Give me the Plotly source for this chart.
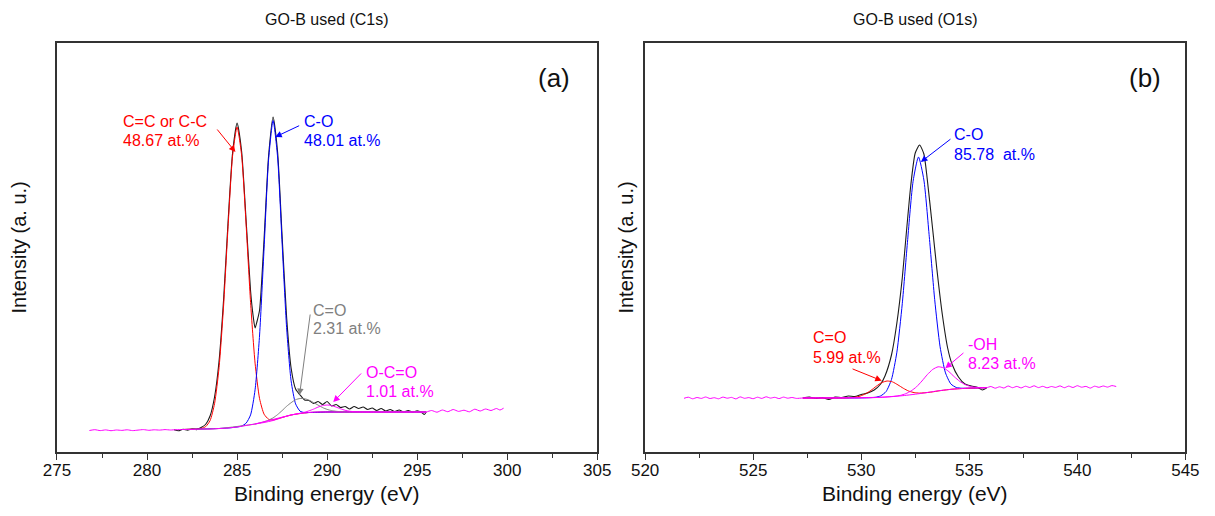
import plotly.graph_objects as go

# ---------------- Panel (a): C1s ----------------
a_exp_x = [281.5, 281.75, 282.0, 282.25, 282.5, 282.75, 283.0, 283.25, 283.5, 283.75, 284.0, 284.25,
           284.5, 284.75, 285.0, 285.25, 285.5, 285.75, 285.9, 286.0, 286.1, 286.25, 286.5, 286.75,
           287.0, 287.25, 287.5, 287.75, 288.0, 288.25, 288.5, 288.75, 289.0, 289.25, 289.5, 289.75,
           290.0, 290.25, 290.5, 290.75, 291.0, 291.25, 291.5, 291.75, 292.0, 292.25, 292.5, 292.75,
           293.0, 293.25, 293.5, 293.75, 294.0, 294.25, 294.5, 294.75, 295.0, 295.25, 295.4, 295.5]
a_exp_y = [22.3, 21.2, 22.8, 21.9, 23.0, 22.4, 24.5, 27.5, 36, 55, 91, 152,
           230, 299, 329, 301, 232, 161, 135, 124, 130, 142, 213, 296,
           335, 300, 216, 135, 84, 63, 57, 52, 51.5, 48.5, 50.5, 47.5,
           50.5, 46, 47.5, 44.5, 45.5, 43, 45.5, 43.5, 45, 42.5, 44, 41.5,
           43.5, 41, 42.5, 40.5, 42, 40, 41.5, 39.8, 41.2, 39.5, 37.5, 40]

a_cc_x = [282.0, 282.5, 283.0, 283.25, 283.5, 283.75, 284.0, 284.25, 284.5, 284.75, 285.0, 285.25,
          285.5, 285.75, 286.0, 286.25, 286.5, 286.75, 287.0, 287.5, 288.0, 288.5, 289.0, 290.0,
          291.0, 293.0, 295.5]
a_cc_y = [22.5, 23, 23.5, 25.3, 31.3, 48.3, 84.4, 145.9, 225.4, 296.1, 325, 297.1,
          227.9, 149.4, 88.9, 53.3, 37.8, 32.8, 32, 34.5, 37, 38.5, 39.5, 40,
          40, 40, 40]

a_co_x = [282.0, 284.0, 284.5, 285.0, 285.25, 285.5, 285.75, 286.0, 286.25, 286.5, 286.75, 287.0,
          287.25, 287.5, 287.75, 288.0, 288.25, 288.5, 288.75, 289.0, 290.0, 292.0, 295.5]
a_co_y = [22.5, 23.5, 24, 25, 25.9, 28.8, 37.1, 62.2, 117, 203.9, 292.5, 331.5,
          295, 208.9, 124.5, 71.2, 48.1, 40.8, 39.4, 39.5, 40, 40, 40]

a_cdo_x = [282.0, 284.0, 286.0, 286.5, 286.75, 287.0, 287.25, 287.5, 287.75, 288.0, 288.25, 288.5,
           288.75, 289.0, 289.25, 289.5, 289.75, 290.0, 290.25, 290.5, 291.0, 292.0, 295.5]
a_cdo_y = [22.5, 23.5, 28, 30.2, 31.9, 34.1, 37.4, 41.4, 45.7, 49.3, 52.3, 53.5,
           53.3, 51.8, 49.4, 46.9, 44.4, 42.6, 41.4, 40.7, 40.1, 40, 40]

a_occo_x = [286.0, 288.0, 288.5, 288.75, 289.0, 289.25, 289.5, 289.75, 290.0, 290.25, 290.5, 290.75,
            291.0, 291.25, 291.5, 292.0, 295.5]
a_occo_y = [28, 37, 38.8, 39.8, 41.2, 42.9, 44.9, 46.4, 47, 46.4, 44.9, 43.2,
            41.7, 40.8, 40.3, 40, 40]

a_bg_x = [276.8, 277.1, 277.4, 277.7, 278.0, 278.3, 278.6, 278.9, 279.2, 279.5, 279.8, 280.1,
          280.4, 280.7, 281.0, 281.3, 281.6, 282.0, 282.5, 283.0, 283.5, 284.0, 284.5, 285.0,
          285.5, 286.0, 286.5, 287.0, 287.5, 288.0, 288.5, 289.0, 289.5, 290.0, 291.0, 292.0,
          293.0, 294.0, 295.0, 295.5, 295.8, 296.1, 296.4, 296.7, 297.0, 297.3, 297.6, 297.9,
          298.2, 298.5, 298.8, 299.1, 299.4, 299.6, 299.8]
a_bg_y = [21.5, 22.3, 21.4, 22.1, 21.3, 22.0, 21.6, 22.2, 21.4, 21.9, 22.4, 21.7,
          22.2, 21.9, 22.4, 22.0, 22.3, 22.5, 22.5, 23.0, 23.0, 23.5, 24.0, 25.0,
          26.5, 28.0, 29.5, 31.5, 34.5, 37.0, 38.5, 39.5, 40.0, 40.0, 40.0, 40.0,
          40.0, 40.0, 40.0, 40.0, 41.5, 39.8, 42.0, 40.3, 42.5, 40.6, 41.8, 40.2,
          42.8, 41.0, 43.0, 41.5, 43.5, 42.0, 43.8]

# ---------------- Panel (b): O1s ----------------
b_exp_x = [527.3, 527.6, 527.9, 528.2, 528.5, 528.8, 529.1, 529.4, 529.7, 530.0, 530.3, 530.6,
           530.9, 531.1, 531.4, 531.65, 531.9, 532.1, 532.3, 532.5, 532.7, 532.9, 533.05, 533.3,
           533.5, 533.75, 534.0, 534.2, 534.5, 534.8, 535.1, 535.4, 535.6, 535.8]
b_exp_y = [54, 55, 53.5, 54.5, 52.5, 55, 54.5, 56, 55.5, 57.5, 59, 62,
           68, 76, 97, 129, 174, 222, 268, 299, 307, 298, 274, 224,
           183, 138, 104, 88, 75, 68, 66, 64.5, 62, 64]

b_co_x = [527.3, 530.0, 530.65, 530.9, 531.15, 531.4, 531.65, 531.9, 532.15, 532.4, 532.65, 532.9,
          533.15, 533.4, 533.65, 533.9, 534.15, 534.4, 534.65, 535.0, 535.8]
b_co_y = [54, 54.1, 54.7, 56.1, 60.4, 72.5, 99.8, 148.3, 212.4, 270.7, 295, 272,
          215.2, 152.4, 105.2, 79.1, 68, 64.5, 63.8, 63.8, 64.3]

b_cdo_x = [527.3, 529.2, 529.7, 529.95, 530.2, 530.45, 530.7, 530.95, 531.2, 531.45, 531.7, 531.95,
           532.2, 532.45, 532.7, 533.2, 533.7, 534.2, 534.7, 535.2, 535.8]
b_cdo_y = [54, 54.1, 54.7, 55.9, 58.2, 61.6, 65.8, 69.4, 71, 70.1, 67.1, 63.7,
           60.9, 59.4, 58.9, 59.8, 61.5, 62.8, 63.5, 64, 64.3]

b_oh_x = [527.3, 531.0, 531.56, 531.81, 532.06, 532.31, 532.56, 532.81, 533.06, 533.31, 533.56, 533.81,
          534.06, 534.31, 534.56, 534.81, 535.06, 535.31, 535.56, 535.8]
b_oh_y = [54, 54.8, 55.8, 56.6, 58.3, 61.1, 65.2, 71, 77.4, 82.6, 85.2, 84.2,
          80.3, 75.2, 70.6, 67.4, 65.5, 64.6, 64.4, 64.3]

b_bg_x = [521.8, 522.0, 522.2, 522.4, 522.6, 522.8, 523.0, 523.2, 523.4, 523.6, 523.8, 524.0,
          524.2, 524.4, 524.6, 524.8, 525.0, 525.2, 525.4, 525.6, 525.8, 526.0, 526.2, 526.4,
          526.6, 526.8, 527.0, 527.3, 528.0, 529.0, 530.0, 530.5, 531.0, 531.5, 532.0, 532.5,
          533.0, 533.5, 534.0, 534.5, 535.0, 535.5, 535.8, 536.0, 536.2, 536.4, 536.6, 536.8,
          537.0, 537.2, 537.4, 537.6, 537.8, 538.0, 538.2, 538.4, 538.6, 538.8, 539.0, 539.2,
          539.4, 539.6, 539.8, 540.0, 540.2, 540.4, 540.6, 540.8, 541.0, 541.2, 541.4, 541.6, 541.8]
b_bg_y = [53.7, 54.8, 53.2, 54.5, 53.6, 55.0, 53.5, 54.3, 53.2, 54.9, 53.8, 54.6,
          53.1, 55.1, 53.7, 54.4, 53.3, 54.8, 53.6, 55.2, 53.9, 54.7, 53.4, 54.9,
          53.8, 54.5, 53.6, 54.0, 54.0, 54.0, 54.1, 54.3, 54.8, 55.5, 56.5, 57.8,
          59.3, 61.0, 62.3, 63.3, 63.8, 64.2, 64.3, 65.5, 63.8, 65.2, 64.0, 66.0,
          64.3, 65.6, 64.1, 65.8, 64.5, 66.2, 64.4, 65.7, 64.2, 65.5, 64.6, 66.1,
          64.3, 65.9, 64.5, 66.3, 64.8, 65.6, 63.9, 65.8, 64.7, 66.0, 64.9, 66.4, 65.5]

x_a_ticks = [275, 280, 285, 290, 295, 300, 305]
x_b_ticks = [520, 525, 530, 535, 540, 545]

BLACK = "#1a1a1a"
RED = "#ff0000"
BLUE = "#0000ff"
GREY = "#808080"
MAG = "#ff00ff"
FONT = "Liberation Sans, Arial, sans-serif"

fig = go.Figure()


def line(x, y, color, xa, ya, width=1.0):
    fig.add_trace(go.Scatter(x=x, y=y, mode="lines", xaxis=xa, yaxis=ya,
                             line=dict(color=color, width=width, shape="spline", smoothing=0.6),
                             showlegend=False, hoverinfo="skip"))


line(a_exp_x, a_exp_y, BLACK, "x", "y", 1.1)
line(a_cc_x, a_cc_y, RED, "x", "y")
line(a_co_x, a_co_y, BLUE, "x", "y")
line(a_cdo_x, a_cdo_y, GREY, "x", "y")
line(a_occo_x, a_occo_y, MAG, "x", "y")
line(a_bg_x, a_bg_y, MAG, "x", "y")

line(b_exp_x, b_exp_y, BLACK, "x2", "y2", 1.1)
line(b_co_x, b_co_y, BLUE, "x2", "y2")
line(b_cdo_x, b_cdo_y, RED, "x2", "y2")
line(b_oh_x, b_oh_y, MAG, "x2", "y2")
line(b_bg_x, b_bg_y, MAG, "x2", "y2")

AX_LINE = "#333333"
xcommon = dict(showline=True, linecolor=AX_LINE, linewidth=1.5, mirror=True, ticks="outside",
               ticklen=6, tickwidth=1.3, tickcolor=AX_LINE, showgrid=False, zeroline=False,
               ticklabelstandoff=-4,
               tickfont=dict(family=FONT, size=17, color="#111111"),
               minor=dict(ticks="outside", ticklen=4, tickwidth=1.2, tickcolor=AX_LINE, dtick=2.5,
                          showgrid=False))
ycommon = dict(showline=True, linecolor=AX_LINE, linewidth=1.5, mirror=True, ticks="",
               showticklabels=False, showgrid=False, zeroline=False, range=[0, 409])

fig.update_layout(
    width=1215, height=516, margin=dict(l=0, r=0, t=0, b=0),
    paper_bgcolor="white", plot_bgcolor="white",
    xaxis=dict(domain=[44 / 1215, 597 / 1215], range=[275, 305], tickvals=x_a_ticks,
               ticktext=[str(v) for v in x_a_ticks], anchor="y", **xcommon),
    yaxis=dict(domain=[(516 - 452) / 516, (516 - 43) / 516], anchor="x", **ycommon),
    xaxis2=dict(domain=[646 / 1215, 1199 / 1215], range=[520, 545], tickvals=x_b_ticks,
                ticktext=[str(v) for v in x_b_ticks], anchor="y2", **xcommon),
    yaxis2=dict(domain=[(516 - 452) / 516, (516 - 43) / 516], anchor="x2", **ycommon),
    font=dict(family=FONT),
)

ann = []


def text(xref, yref, x, y, s, color, size=16, xanchor="left"):
    ann.append(dict(xref=xref, yref=yref, x=x, y=y, text=s, showarrow=False,
                    xanchor=xanchor, yanchor="middle",
                    font=dict(family=FONT, size=size, color=color)))


def arrow(xref, yref, x, y, ax, ay, color):
    ann.append(dict(xref=xref, yref=yref, x=x, y=y, ax=ax, ay=ay, axref=xref, ayref=yref,
                    text="", showarrow=True, arrowhead=2, arrowsize=1.3, arrowwidth=1,
                    arrowcolor=color))


# panel a labels
text("x", "y", 278.58, 331, "C=C or C-C", RED)
text("x", "y", 278.58, 312, "48.67 at.%", RED)
arrow("x", "y", 284.91, 300, 283.83, 324, RED)
text("x", "y", 288.62, 331, "C-O", BLUE)
text("x", "y", 288.62, 312, "48.01 at.%", BLUE)
arrow("x", "y", 287.12, 315, 288.53, 327, BLUE)
text("x", "y", 289.11, 142, "C=O", GREY)
text("x", "y", 289.11, 124, "2.31 at.%", GREY)
arrow("x", "y", 288.47, 57, 289.07, 139, GREY)
text("x", "y", 292.04, 80, "O-C=O", MAG)
text("x", "y", 292.04, 61, "1.01 at.%", MAG)
arrow("x", "y", 290.34, 50, 291.97, 80, MAG)
text("x", "y", 302.6, 374, "(a)", "#111111", size=26, xanchor="center")

# panel b labels
text("x2", "y2", 534.2, 318, "C-O", BLUE)
text("x2", "y2", 534.2, 298, "85.78\u00a0\u00a0at.%", BLUE)
arrow("x2", "y2", 532.76, 290, 534.2, 314, BLUE)
text("x2", "y2", 527.69, 115, "C=O", RED)
text("x2", "y2", 527.69, 95, "5.99 at.%", RED)
arrow("x2", "y2", 530.95, 71.3, 529.53, 83.7, RED)
text("x2", "y2", 534.87, 108, "-OH", MAG)
text("x2", "y2", 534.87, 89, "8.23 at.%", MAG)
arrow("x2", "y2", 533.89, 83.7, 534.80, 100.3, MAG)
text("x2", "y2", 543.15, 374, "(b)", "#111111", size=26, xanchor="center")

# titles and axis titles (paper coords)
for xc, s in [(320, "GO-B used (C1s)"), (922, "GO-B used (O1s)")]:
    ann.append(dict(xref="paper", yref="paper", x=xc / 1215, y=1 - 20 / 516, text=s,
                    showarrow=False, xanchor="center", yanchor="middle",
                    font=dict(family=FONT, size=16, color="#111111")))
for xc in [320, 922]:
    ann.append(dict(xref="paper", yref="paper", x=xc / 1215, y=1 - 493 / 516,
                    text="Binding energy (eV)", showarrow=False, xanchor="center",
                    yanchor="middle", font=dict(family=FONT, size=21, color="#111111")))
for xc, sh in [(20, -15), (626, 0)]:
    ann.append(dict(xref="paper", yref="paper", x=xc / 1215, y=1 - 248 / 516, xshift=sh,
                    text="Intensity (a. u.)", showarrow=False, xanchor="center",
                    yanchor="middle", textangle=-90,
                    font=dict(family=FONT, size=20, color="#111111")))

fig.update_layout(annotations=ann)
fig.write_html("out.html")
